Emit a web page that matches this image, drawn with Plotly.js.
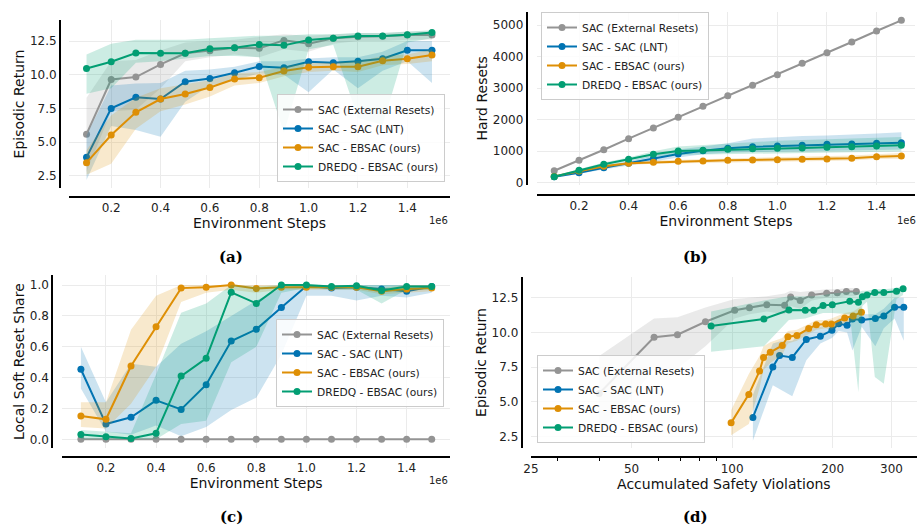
<!DOCTYPE html>
<html>
<head>
<meta charset="utf-8">
<script src="https://cdn.plot.ly/plotly-3.0.1.min.js"></script>
<style>html,body{margin:0;padding:0;background:#fff;}#chart{width:918px;height:527px;}</style>
</head>
<body>
<div id="chart"></div>
<script>
// ---------- data ----------
const seriesNames = ["SAC (External Resets)", "SAC - SAC (LNT)", "SAC - EBSAC (ours)", "DREDQ - EBSAC (ours)"];
const steps = [0.1,0.2,0.3,0.4,0.5,0.6,0.7,0.8,0.9,1.0,1.1,1.2,1.3,1.4,1.5];

// (a) Episodic return
const retGray    = [5.6,9.65,9.83,10.77,11.59,11.78,12.0,11.96,12.55,12.3,12.7,12.82,12.85,12.95,12.95];
const retGrayHi  = [8.3,11.0,11.1,11.8,12.4,12.5,12.6,12.8,13.0,12.9,13.0,13.1,13.1,13.2,13.2];
const retGrayLo  = [2.8,7.3,7.4,9.0,11.0,11.3,11.5,11.3,11.9,11.7,12.3,12.5,12.5,12.6,12.6];
const retBlue    = [3.88,7.51,8.33,8.2,9.49,9.73,10.15,10.62,10.52,10.97,10.9,11.0,11.19,11.81,11.81];
const retBlueHi  = [5.5,9.2,9.35,9.4,10.3,10.4,10.6,11.0,11.0,11.2,11.3,11.3,11.7,12.5,12.5];
const retBlueLo  = [2.2,6.2,5.9,5.4,8.0,9.2,9.6,10.1,10.0,8.7,10.4,9.0,10.3,11.0,9.4];
const retOrange   = [3.49,5.54,7.22,8.2,8.57,9.06,9.69,9.78,10.28,10.55,10.6,10.6,11.04,11.19,11.46];
const retOrangeHi = [4.4,7.0,8.3,9.0,9.3,9.6,10.1,10.2,10.6,10.9,10.9,11.0,11.4,11.5,11.9];
const retOrangeLo = [2.6,3.4,6.0,7.3,7.8,8.4,9.2,9.4,9.9,10.2,10.3,10.2,10.7,10.8,11.0];
const retGreen   = [10.47,10.97,11.61,11.59,11.59,11.93,12.0,12.25,12.18,12.57,12.7,12.87,12.87,12.97,13.14];
const retGreenHi = [11.5,12.3,12.6,12.6,12.6,12.7,12.8,12.9,12.9,13.0,13.0,13.1,13.1,13.2,13.3];
const retGreenLo = [8.6,9.0,10.9,11.0,11.2,11.4,11.4,11.3,5.7,11.9,12.2,6.8,6.3,12.4,12.7];

// (b) Hard resets
const hrGray    = [380,710,1046,1395,1734,2074,2422,2759,3088,3424,3786,4122,4461,4810,5149];
const hrBlue    = [190,317,476,615,761,910,1015,1091,1141,1163,1186,1218,1227,1249,1268];
const hrBlueHi  = [230,360,530,680,860,1050,1150,1250,1400,1450,1480,1500,1520,1560,1600];
const hrBlueLo  = [150,280,420,560,680,800,900,950,970,990,1000,1020,1030,1040,1050];
const hrOrange   = [200,370,520,615,647,678,688,710,720,730,742,751,773,825,847];
const hrOrangeHi = [230,420,560,650,700,730,740,770,790,810,820,830,860,900,940];
const hrOrangeLo = [170,330,470,560,600,630,640,650,660,670,680,690,700,750,760];
const hrGreen   = [190,393,583,742,900,1005,1027,1059,1078,1091,1101,1122,1141,1163,1186];
const hrGreenHi = [220,430,640,800,1000,1150,1200,1250,1300,1330,1350,1370,1400,1420,1450];
const hrGreenLo = [160,350,530,680,820,880,900,920,930,940,950,960,970,980,990];

// (c) Local soft reset share
const lsGray    = [0,0,0,0,0,0,0,0,0,0,0,0,0,0,0];
const lsBlue    = [0.454,0.099,0.143,0.253,0.194,0.354,0.637,0.713,0.855,0.993,0.98,0.985,0.975,0.96,0.99];
const lsBlueHi  = [0.60,0.24,0.49,0.47,0.62,0.70,0.80,0.90,0.98,1.0,1.0,1.0,1.0,1.0,1.0];
const lsBlueLo  = [0.33,0.05,0.03,0.09,0.02,0.08,0.19,0.27,0.55,0.93,0.93,0.90,0.93,0.92,0.95];
const lsOrange   = [0.151,0.13,0.475,0.73,0.98,0.985,1.0,0.977,0.985,0.985,0.985,0.985,0.96,0.975,0.98];
const lsOrangeHi = [0.24,0.24,0.71,0.93,1.0,1.0,1.0,1.0,1.0,1.0,1.0,1.0,0.98,1.0,1.0];
const lsOrangeLo = [0.08,0.07,0.23,0.47,0.89,0.95,0.97,0.95,0.97,0.97,0.97,0.97,0.94,0.95,0.96];
const lsGreen   = [0.032,0.017,0.006,0.039,0.41,0.525,0.953,0.881,1.0,1.0,0.99,0.995,0.965,0.99,0.99];
const lsGreenHi = [0.06,0.05,0.04,0.42,0.82,0.88,1.0,0.99,1.0,1.0,1.0,1.0,1.0,1.0,1.0];
const lsGreenLo = [0.0,0.0,0.0,0.0,0.10,0.12,0.50,0.60,0.95,0.98,0.97,0.97,0.88,0.97,0.97];

// (d) Accumulated safety violations (x) vs episodic return (y, same as (a))
const violGray   = [40,58.4,68.6,83.2,101.8,112.7,127,143.6,149.7,159.9,173,191.9,206.5,219.8,235.5];
const violBlue   = [115.4,132.4,138.7,151.4,166.8,183.7,199,208.5,220.9,229.2,244.3,268.4,284.5,306.5,326.5];
const violOrange = [99.3,112.2,120.8,124.2,130.1,141.3,146.9,156.3,169.5,178.7,190.6,198.2,217.3,230.3,243.9];
const violGreen  = [86.5,124.5,147.9,165.6,175.5,187.2,199.5,225,238.8,245.5,253.4,267.4,284.5,310.6,325];

const stepTicks = [0.2,0.4,0.6,0.8,1.0,1.2,1.4];
const violTicks = [25,50,100,200,300];
const violMinor = [30,40,60,70,80,90];

// ---------- styling ----------
const colors = ["#949494","#0173b2","#de8f05","#029e73"];
const fills  = ["rgba(148,148,148,0.2)","rgba(1,115,178,0.2)","rgba(222,143,5,0.2)","rgba(2,158,115,0.2)"];
const FONT = "DejaVu Sans, sans-serif";

const traces = [];
function addPanel(xs, means, his, los, xa, ya, leg) {
  for (let i = 0; i < 4; i++) {
    const x = xs[i];
    if (his[i]) {
      traces.push({
        type: "scatter", mode: "lines", xaxis: xa, yaxis: ya,
        x: x.concat(x.slice().reverse()),
        y: his[i].concat(los[i].slice().reverse()),
        fill: "toself", fillcolor: fills[i], line: {width: 0, color: "rgba(0,0,0,0)"},
        hoverinfo: "skip", showlegend: false
      });
    }
    traces.push({
      type: "scatter", mode: "lines+markers", xaxis: xa, yaxis: ya, legend: leg,
      name: seriesNames[i], x: x, y: means[i],
      line: {color: colors[i], width: 2}, marker: {color: colors[i], size: 7}
    });
  }
}

addPanel([steps,steps,steps,steps],
  [retGray,retBlue,retOrange,retGreen],
  [retGrayHi,retBlueHi,retOrangeHi,retGreenHi],
  [retGrayLo,retBlueLo,retOrangeLo,retGreenLo], "x", "y", "legend");
addPanel([steps,steps,steps,steps],
  [hrGray,hrBlue,hrOrange,hrGreen],
  [null,hrBlueHi,hrOrangeHi,hrGreenHi],
  [null,hrBlueLo,hrOrangeLo,hrGreenLo], "x2", "y2", "legend2");
addPanel([steps,steps,steps,steps],
  [lsGray,lsBlue,lsOrange,lsGreen],
  [null,lsBlueHi,lsOrangeHi,lsGreenHi],
  [null,lsBlueLo,lsOrangeLo,lsGreenLo], "x3", "y3", "legend3");
addPanel([violGray,violBlue,violOrange,violGreen],
  [retGray,retBlue,retOrange,retGreen],
  [retGrayHi,retBlueHi,retOrangeHi,retGreenHi],
  [retGrayLo,retBlueLo,retOrangeLo,retGreenLo], "x4", "y4", "legend4");

const W = 918, H = 527;
const px = v => v / W;
const py = v => 1 - v / H;

function xax(d0, d1, pos, range, title, extra) {
  return Object.assign({
    anchor: "free", position: py(pos), domain: [px(d0), px(d1)], range: range,
    showline: true, linecolor: "#000", linewidth: 2, mirror: false,
    showgrid: true, gridcolor: "#ebebeb", gridwidth: 1, zeroline: false,
    ticks: "", tickvals: stepTicks, tickformat: ".1f",
    tickfont: {family: FONT, size: 12, color: "#222"},
    title: {text: title, font: {family: FONT, size: 14, color: "#111"}, standoff: 2},
    automargin: false
  }, extra || {});
}
function yax(d0, d1, pos, range, title, extra) {
  return Object.assign({
    anchor: "free", position: px(pos), domain: [py(d1), py(d0)], range: range,
    showline: true, linecolor: "#000", linewidth: 2, mirror: false,
    showgrid: true, gridcolor: "#ebebeb", gridwidth: 1, zeroline: false,
    ticks: "", tickfont: {family: FONT, size: 12, color: "#222"},
    title: {text: title, font: {family: FONT, size: 14, color: "#111"}, standoff: 1},
    automargin: false
  }, extra || {});
}
function legendAt(x, y, xa, ya) {
  return {x: x, y: y, xanchor: xa, yanchor: ya, xref: "paper", yref: "paper",
    bgcolor: "rgba(255,255,255,0.85)", bordercolor: "#cccccc", borderwidth: 1,
    font: {family: FONT, size: 10.7, color: "#222"}, itemwidth: 30, tracegroupgap: 0};
}

const layout = {
  width: W, height: H,
  margin: {l: 0, r: 0, t: 0, b: 0},
  paper_bgcolor: "#fff", plot_bgcolor: "#fff",
  font: {family: FONT},
  xaxis:  xax(69, 450, 197, [0.029, 1.573], "Environment Steps"),
  yaxis:  yax(20, 188, 60, [1.61, 14.06], "Episodic Return", {dtick: 2.5, tick0: 0, tickformat: ".1f"}),
  xaxis2: xax(537, 915, 195, [0.0306, 1.555], "Environment Steps"),
  yaxis2: yax(11.7, 185, 526.7, [-73, 5422], "Hard Resets", {dtick: 1000, tick0: 0}),
  xaxis3: xax(62.3, 450, 456.7, [0.0258, 1.573], "Environment Steps"),
  yaxis3: yax(275, 448.3, 52.3, [-0.058, 1.065], "Local Soft Reset Share", {dtick: 0.2, tick0: 0, tickformat: ".1f"}),
  xaxis4: xax(531, 916.7, 457.3, [Math.log10(25), 2.5526], "Accumulated Safety Violations",
    {type: "log", tickvals: violTicks, tickformat: "", ticktext: violTicks.map(String),
     minor: {tickvals: violMinor, ticks: "outside", ticklen: 3, tickcolor: "#000", showgrid: false}}),
  yaxis4: yax(276.7, 448.3, 521.7, [1.66, 14.01], "Episodic Return", {dtick: 2.5, tick0: 0, tickformat: ".1f"}),
  legend:  legendAt(px(445), py(182), "right", "bottom"),
  legend2: legendAt(px(541), py(12), "left", "top"),
  legend3: legendAt(px(444), py(363), "right", "middle"),
  legend4: legendAt(px(537), py(443), "left", "bottom"),
  annotations: [
    {text: "1e6", xref: "paper", yref: "paper", x: px(450), y: py(220), xanchor: "right", yanchor: "middle", showarrow: false, font: {family: FONT, size: 10, color: "#222"}},
    {text: "1e6", xref: "paper", yref: "paper", x: px(918), y: py(220), xanchor: "right", yanchor: "middle", showarrow: false, font: {family: FONT, size: 10, color: "#222"}},
    {text: "1e6", xref: "paper", yref: "paper", x: px(450), y: py(480), xanchor: "right", yanchor: "middle", showarrow: false, font: {family: FONT, size: 10, color: "#222"}},
    {text: "<b>(a)</b>", xref: "paper", yref: "paper", x: px(231), y: py(257), xanchor: "center", yanchor: "middle", showarrow: false, font: {family: "DejaVu Serif, serif", size: 15, color: "#000"}},
    {text: "<b>(b)</b>", xref: "paper", yref: "paper", x: px(695), y: py(257), xanchor: "center", yanchor: "middle", showarrow: false, font: {family: "DejaVu Serif, serif", size: 15, color: "#000"}},
    {text: "<b>(c)</b>", xref: "paper", yref: "paper", x: px(231), y: py(517), xanchor: "center", yanchor: "middle", showarrow: false, font: {family: "DejaVu Serif, serif", size: 15, color: "#000"}},
    {text: "<b>(d)</b>", xref: "paper", yref: "paper", x: px(695), y: py(517), xanchor: "center", yanchor: "middle", showarrow: false, font: {family: "DejaVu Serif, serif", size: 15, color: "#000"}}
  ]
};

Plotly.newPlot("chart", traces, layout, {displayModeBar: false, staticPlot: true});
</script>
</body>
</html>
